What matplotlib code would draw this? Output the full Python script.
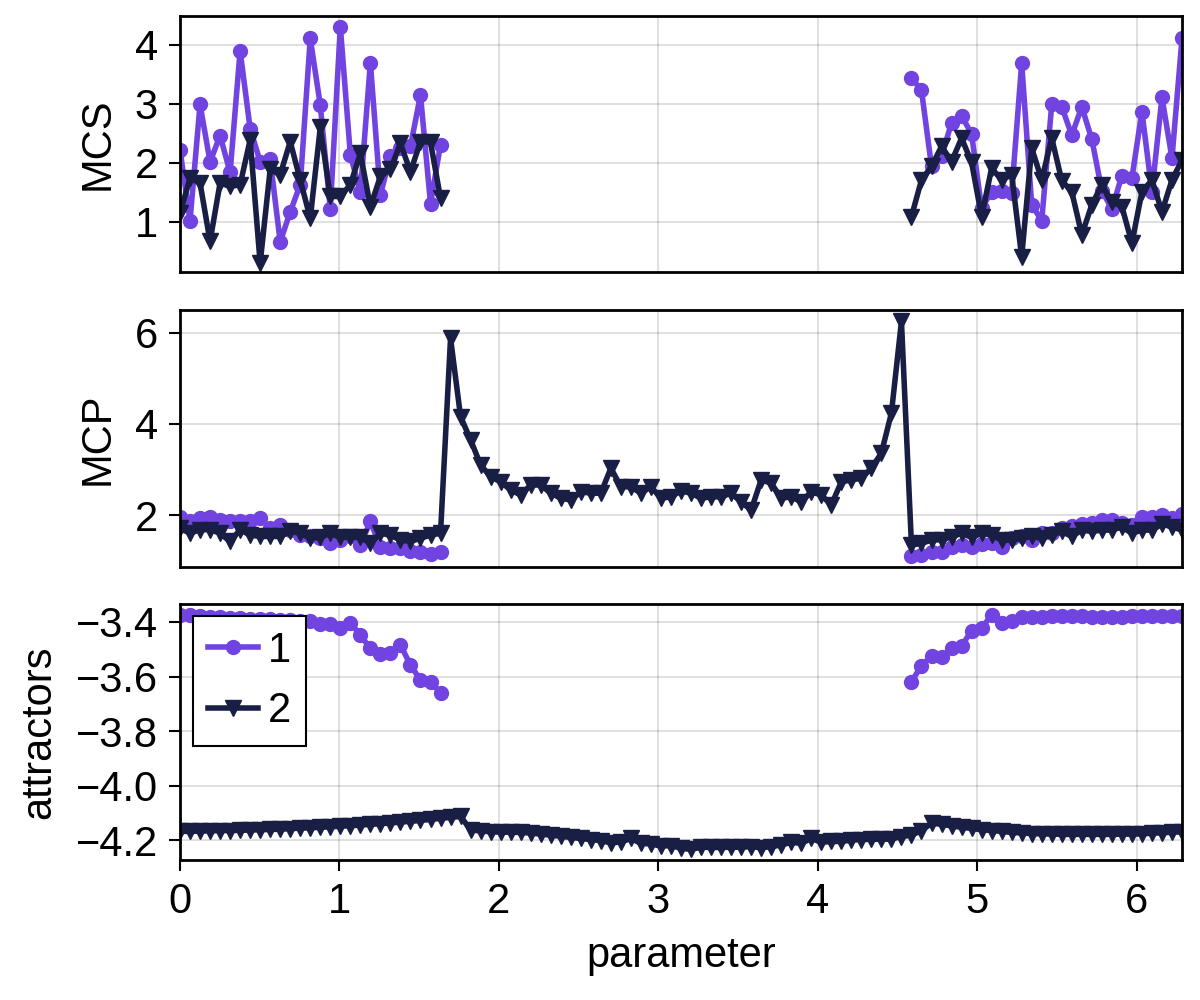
import numpy as np
import matplotlib
matplotlib.use("Agg")
import matplotlib.pyplot as plt

# parameter grid: 101 points on [0, 2pi]
n_points = 101
param = np.linspace(0, 2 * np.pi, n_points)
gap_start, gap_end = 27, 73  # attractor 1 missing for indices 27..72

# MCS, attractor 1 (left block i=0..26, right block i=73..100)
mcs1_left = [2.22, 1.02, 2.99, 2.02, 2.46, 1.84, 3.90, 2.58, 2.02, 2.06,
             0.66, 1.17, 1.63, 4.11, 2.98, 1.22, 4.31, 2.14, 1.50, 3.70,
             1.46, 2.11, 2.25, 2.28, 3.15, 1.31, 2.31]
mcs1_right = [3.44, 3.23, 1.94, 2.11, 2.68, 2.80, 2.49, 1.23, 1.51, 1.53,
              1.49, 3.69, 1.29, 1.02, 2.99, 2.95, 2.47, 2.95, 2.40, 1.53,
              1.22, 1.78, 1.74, 2.87, 1.51, 3.11, 2.08, 4.11]
# MCS, attractor 2
mcs2_left = [1.15, 1.74, 1.66, 0.67, 1.66, 1.60, 1.63, 2.39, 0.30, 1.89,
             1.80, 2.36, 1.71, 1.06, 2.60, 1.43, 1.43, 1.63, 2.16, 1.26,
             1.77, 1.89, 2.33, 1.85, 2.36, 2.35, 1.40]
mcs2_right = [1.09, 1.71, 1.94, 2.28, 2.02, 2.42, 2.01, 1.09, 1.91, 1.71,
              1.80, 0.41, 2.25, 1.71, 2.42, 1.70, 1.51, 0.78, 1.29, 1.63,
              1.34, 1.26, 0.64, 1.51, 1.71, 1.17, 1.71, 2.05]

# MCP, attractor 1
mcp1_left = [1.96, 1.86, 1.93, 1.95, 1.89, 1.88, 1.86, 1.86, 1.93, 1.71,
             1.79, 1.68, 1.56, 1.53, 1.49, 1.38, 1.45, 1.53, 1.34, 1.86,
             1.30, 1.27, 1.27, 1.22, 1.20, 1.14, 1.20]
mcp1_right = [1.10, 1.12, 1.19, 1.19, 1.30, 1.34, 1.30, 1.36, 1.38, 1.30,
              1.49, 1.54, 1.45, 1.60, 1.60, 1.71, 1.76, 1.80, 1.83, 1.90,
              1.89, 1.83, 1.78, 1.95, 1.96, 2.00, 1.93, 2.02]
# MCP, attractor 2 (full range)
mcp2 = [1.71, 1.60, 1.68, 1.68, 1.60, 1.42, 1.68, 1.56, 1.53, 1.53,
        1.53, 1.64, 1.60, 1.49, 1.51, 1.60, 1.51, 1.51, 1.51, 1.38,
        1.60, 1.56, 1.45, 1.42, 1.49, 1.56, 1.60, 5.88, 4.16, 3.65,
        3.10, 2.84, 2.73, 2.55, 2.44, 2.66, 2.66, 2.48, 2.37, 2.33,
        2.51, 2.48, 2.48, 3.03, 2.62, 2.62, 2.48, 2.62, 2.37, 2.40,
        2.53, 2.48, 2.37, 2.40, 2.40, 2.48, 2.29, 2.11, 2.77, 2.70,
        2.37, 2.40, 2.29, 2.51, 2.44, 2.22, 2.73, 2.77, 2.81, 3.03,
        3.36, 4.24, 6.25, 1.34, 1.38, 1.45, 1.46, 1.52, 1.60, 1.51,
        1.60, 1.56, 1.45, 1.45, 1.49, 1.53, 1.49, 1.56, 1.64, 1.53,
        1.67, 1.64, 1.67, 1.67, 1.74, 1.60, 1.67, 1.67, 1.80, 1.74,
        1.67]

# attractor values, attractor 1
att1_left = [-3.374, -3.374, -3.377, -3.380, -3.380, -3.385, -3.385, -3.388,
             -3.390, -3.390, -3.391, -3.393, -3.396, -3.396, -3.408, -3.408,
             -3.423, -3.402, -3.448, -3.497, -3.517, -3.515, -3.484, -3.558,
             -3.613, -3.619, -3.659]
att1_right = [-3.619, -3.560, -3.525, -3.530, -3.497, -3.488, -3.432, -3.423,
              -3.374, -3.405, -3.396, -3.383, -3.382, -3.380, -3.378, -3.378,
              -3.378, -3.379, -3.380, -3.381, -3.381, -3.380, -3.379, -3.378,
              -3.377, -3.377, -3.378, -3.378]
# attractor values, attractor 2 (full range)
att2 = [-4.168, -4.168, -4.167, -4.166, -4.165, -4.165, -4.164, -4.163,
        -4.162, -4.161, -4.160, -4.158, -4.156, -4.155, -4.153, -4.151,
        -4.149, -4.147, -4.145, -4.142, -4.140, -4.137, -4.134, -4.131,
        -4.128, -4.124, -4.120, -4.117, -4.113, -4.162, -4.167, -4.169,
        -4.171, -4.171, -4.172, -4.174, -4.178, -4.182, -4.186, -4.190,
        -4.194, -4.198, -4.202, -4.210, -4.207, -4.194, -4.212, -4.214,
        -4.222, -4.220, -4.230, -4.234, -4.226, -4.227, -4.227, -4.226,
        -4.226, -4.224, -4.228, -4.224, -4.218, -4.208, -4.212, -4.194,
        -4.208, -4.205, -4.205, -4.200, -4.198, -4.197, -4.197, -4.196,
        -4.187, -4.182, -4.165, -4.138, -4.142, -4.148, -4.153, -4.157,
        -4.162, -4.165, -4.168, -4.172, -4.174, -4.176, -4.177, -4.178,
        -4.179, -4.179, -4.179, -4.179, -4.179, -4.179, -4.178, -4.178,
        -4.177, -4.175, -4.173, -4.171, -4.170]

purple = "#7143E0"
navy = "#191E44"


def with_gap(left, right):
    full = np.full(n_points, np.nan)
    full[:gap_start] = left
    full[gap_end:] = right
    return full


plt.rcParams['font.family'] = ['Liberation Sans', 'DejaVu Sans']
fs = 30

fig = plt.figure(figsize=(12, 10), dpi=100)
left, width = 0.15, 0.835
ax1 = fig.add_axes([left, 0.728, width, 0.256])
ax2 = fig.add_axes([left, 0.433, width, 0.257])
ax3 = fig.add_axes([left, 0.140, width, 0.256])

line_kw = dict(linewidth=4.0)
m1 = dict(marker='o', markersize=10, color=purple)
m2 = dict(marker='v', markersize=11, color=navy)

ax1.plot(param, with_gap(mcs1_left, mcs1_right), **line_kw, **m1)
ax1.plot(param, with_gap(mcs2_left, mcs2_right), **line_kw, **m2)

ax2.plot(param, with_gap(mcp1_left, mcp1_right), **line_kw, **m1)
ax2.plot(param, mcp2, **line_kw, **m2)

ax3.plot(param, with_gap(att1_left, att1_right), label="1", **line_kw, **m1)
ax3.plot(param, att2, label="2", **line_kw, **m2)

ax1.set_ylim(0.15, 4.49)
ax1.set_yticks([1, 2, 3, 4])
ax1.set_ylabel("MCS", fontsize=fs, labelpad=12)
ax2.set_ylim(0.86, 6.5)
ax2.set_yticks([2, 4, 6])
ax2.set_ylabel("MCP", fontsize=fs, labelpad=12)
ax3.set_ylim(-4.273, -3.334)
ax3.set_yticks([-4.2, -4.0, -3.8, -3.6, -3.4])
ax3.set_yticklabels(["\u22124.2", "\u22124.0", "\u22123.8", "\u22123.6", "\u22123.4"])
ax3.set_ylabel("attractors", fontsize=fs, labelpad=12)
ax3.set_xlabel("parameter", fontsize=fs, labelpad=10)

for ax in (ax1, ax2, ax3):
    ax.set_xlim(0, 2 * np.pi)
    ax.set_xticks([0, 1, 2, 3, 4, 5, 6])
    ax.grid(True, color="#000000", alpha=0.12, linewidth=1.5)
    ax.set_axisbelow(True)
    for s in ax.spines.values():
        s.set_linewidth(2)
    ax.tick_params(axis='both', labelsize=fs, width=1.5, length=8, direction='out')
    ax.tick_params(axis='y', pad=8)
    ax.tick_params(axis='x', pad=8)

for ax in (ax1, ax2):
    ax.tick_params(axis='x', bottom=False, labelbottom=False)

leg = ax3.legend(loc='upper left', bbox_to_anchor=(0.013, 0.953), borderaxespad=0,
                 fontsize=fs, frameon=True, fancybox=False, framealpha=1,
                 handlelength=1.2, handletextpad=0.25, borderpad=0.35,
                 labelspacing=0.5)
leg.get_frame().set_edgecolor("black")
leg.get_frame().set_linewidth(1.5)

fig.savefig("out.png", dpi=100)
